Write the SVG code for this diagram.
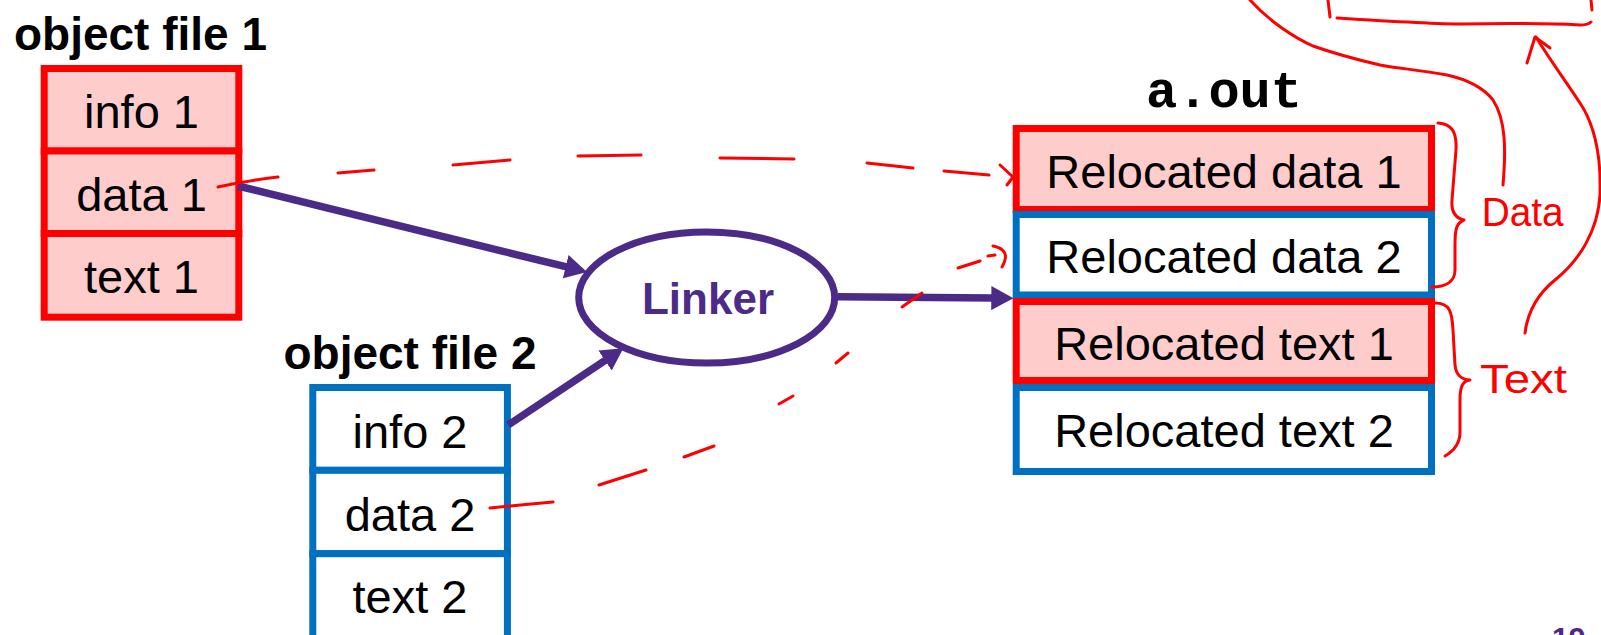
<svg xmlns="http://www.w3.org/2000/svg" width="1601" height="635" viewBox="0 0 1601 635">
<style>
text{font-family:"Liberation Sans",Arial,sans-serif;}
.lbl{font-size:47px;fill:#000;text-anchor:middle;}
.title{font-size:46px;font-weight:bold;fill:#000;text-anchor:middle;}
.mono{font-family:"Liberation Mono","Courier New",monospace;font-size:52px;font-weight:bold;text-anchor:middle;}
.red{fill:#FFCCCC;stroke:#FF0000;stroke-width:7;}
.blue{fill:#FFFFFF;stroke:#0070C0;stroke-width:7;}
.arrow{fill:none;stroke:#4B2A88;stroke-width:7.5;marker-end:url(#ah);}
.ink{fill:none;stroke:#FF0000;stroke-width:3;stroke-linecap:round;stroke-linejoin:round;}
.hand{font-size:40px;fill:#FF0000;}
</style>
<defs>
<marker id="ah" markerUnits="userSpaceOnUse" viewBox="0 0 22 24" refX="2" refY="12" markerWidth="22" markerHeight="24" orient="auto">
<path d="M0,0 L22,12 L0,24 z" fill="#4B2A88"/>
</marker>
</defs>

<g id="objfile1">
<text class="title" x="140.5" y="50">object file 1</text>
<rect class="red" x="44.2" y="68.5" width="194.6" height="82.5"/>
<rect class="red" x="44.2" y="151" width="194.6" height="82.5"/>
<rect class="red" x="44.2" y="233.5" width="194.6" height="83.7"/>
<text class="lbl" x="141.5" y="128">info 1</text>
<text class="lbl" x="141.5" y="211">data 1</text>
<text class="lbl" x="141.5" y="293">text 1</text>
</g>

<g id="objfile2">
<text class="title" x="410" y="369">object file 2</text>
<rect class="blue" x="312.8" y="387.5" width="194.6" height="82.8"/>
<rect class="blue" x="312.8" y="470.3" width="194.6" height="83.4"/>
<rect class="blue" x="312.8" y="553.7" width="194.6" height="90"/>
<text class="lbl" x="410" y="448.3">info 2</text>
<text class="lbl" x="410" y="530.7">data 2</text>
<text class="lbl" x="410" y="613.3">text 2</text>
</g>

<g id="linker">
<ellipse cx="706.7" cy="297.5" rx="128" ry="65.5" fill="#FFFFFF" stroke="#4B2A88" stroke-width="7"/>
<text x="708" y="314" font-size="44" font-weight="bold" fill="#4B2A88" text-anchor="middle">Linker</text>
</g>

<g id="aout">
<text class="mono" x="1224" y="106.7">a.out</text>
<rect class="red" x="1016.2" y="128.5" width="415.3" height="81"/>
<rect class="blue" x="1016.2" y="214.5" width="415.3" height="80.5"/>
<rect class="red" x="1016.2" y="301.5" width="415.3" height="79"/>
<rect class="blue" x="1016.2" y="387.5" width="415.3" height="84"/>
<text class="lbl" x="1224" y="187.7">Relocated data 1</text>
<text class="lbl" x="1224" y="273.3">Relocated data 2</text>
<text class="lbl" x="1224" y="360">Relocated text 1</text>
<text class="lbl" x="1224" y="446.7">Relocated text 2</text>
</g>

<g id="annotations">
<path class="ink" d="M1438,123 C1452,124 1457,132 1456,150 L1452,200 C1451,212 1455,218 1464,220 C1456,223 1455,230 1455,245 L1455,270 C1455,282 1445,287 1432,287"/>
<path class="ink" d="M1435,303 C1450,303 1452,312 1453,330 L1455,365 C1456,375 1462,380 1470,380 C1462,381 1460,388 1460,400 L1460,432 C1460,445 1452,452 1445,456"/>
<text class="hand" x="1481.7" y="226" textLength="82" lengthAdjust="spacingAndGlyphs">Data</text>
<text class="hand" x="1480" y="393" font-size="46" textLength="87" lengthAdjust="spacingAndGlyphs">Text</text>
<path class="ink" d="M1328,0 L1330,17"/>
<path class="ink" d="M1337,18 C1400,22 1440,24 1463,24 C1520,23 1560,24 1580,25 C1588,25 1590,23 1591,22"/>
<path class="ink" d="M1591,0 L1592,10"/>
</g>

<g id="connectors">
<path class="arrow" d="M238,186 L567.6,267.2"/>
<path class="arrow" d="M508.3,425 L606.7,359.4"/>
<path class="arrow" d="M838,296.7 L993.3,298.1"/>
<path class="ink" d="M218,187 Q245,181 278,177"/>
<path class="ink" d="M338,173 L374,170"/>
<path class="ink" d="M453,165 L510,160"/>
<path class="ink" d="M578,156 L641,155"/>
<path class="ink" d="M720,158 L794,159"/>
<path class="ink" d="M867,163 L913,168"/>
<path class="ink" d="M944,171 L989,175"/>
<path class="ink" d="M1000,165 L1013,177 L1007,185"/>
<path class="ink" d="M490,508 Q520,505 553,502"/>
<path class="ink" d="M599,485 L646,470"/>
<path class="ink" d="M684,457 L714,446"/>
<path class="ink" d="M779,404 L793,396"/>
<path class="ink" d="M836,363 L848,353"/>
<path class="ink" d="M902,307 L922,293"/>
<path class="ink" d="M958,268 L980,261"/>
<path class="ink" d="M988,256 L995,255"/>
<path class="ink" d="M993,246 Q1012,250 1002,267"/>
<path class="ink" d="M1503,185 C1506,150 1506,120 1493,100 C1482,86 1465,79 1447,75 C1420,70 1395,68 1380,65 C1350,58 1330,52 1313,46 C1295,38 1270,22 1250,0"/>
<path class="ink" d="M1525,333 C1528,310 1540,292 1555,280 C1580,260 1598,230 1600,195 C1601,165 1598,130 1580,103 C1565,80 1550,60 1536,37"/>
<path class="ink" d="M1527,63 L1535,37 L1550,48"/>
</g>

<text x="1552" y="648" font-size="30" font-weight="bold" fill="#4B2A88">19</text>
</svg>
